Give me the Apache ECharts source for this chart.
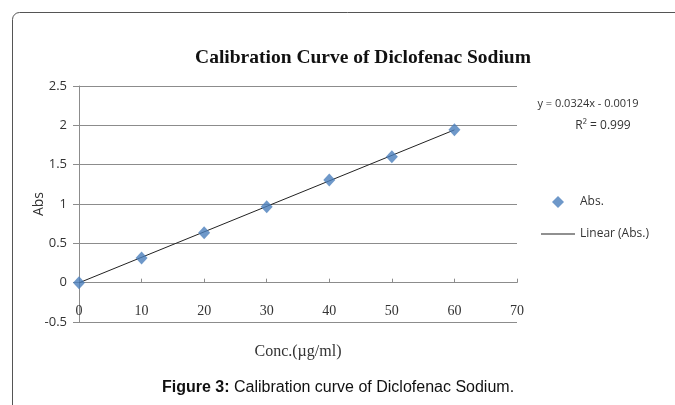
<!DOCTYPE html>
<html>
<head>
<meta charset="utf-8">
<script src="https://cdn.jsdelivr.net/npm/echarts@6/dist/echarts.min.js"></script>
<style>
  html, body { margin: 0; padding: 0; background: #fff; }
  #chart { width: 675px; height: 405px; }
</style>
</head>
<body>
<div id="chart"></div>
<script>
// concentration (µg/ml) and absorbance
var conc = [0, 10, 20, 30, 40, 50, 60]
var abs = [0, 0.315, 0.635, 0.965, 1.305, 1.6, 1.945]
// linear trendline endpoints, y = 0.0324x - 0.0019
var trendX = [0, 60]
var trendY = [-0.0019, 1.9421]

var chart = echarts.init(document.getElementById('chart'))
var option = {
  animation: false,
  backgroundColor: '#fff',
  title: {
    text: 'Calibration Curve of Diclofenac Sodium',
    left: 358,
    textAlign: 'center',
    top: 43,
    textStyle: {
      fontFamily: 'Liberation Serif',
      fontWeight: 'bold',
      fontSize: 19.5,
      color: '#111'
    }
  },
  grid: {
    left: 79,
    right: 158,
    top: 86,
    bottom: 83,
    outerBoundsMode: 'none',
    containLabel: false
  },
  legend: {
    orient: 'vertical',
    left: 536,
    top: 191,
    itemWidth: 34,
    itemHeight: 12,
    itemGap: 20,
    symbolKeepAspect: true,
    textStyle: {
      fontFamily: 'Open Sans',
      fontSize: 12,
      color: '#333'
    },
    data: [
      { name: 'Abs.', icon: 'path://M0,-1L1,0L0,1L-1,0Z' },
      { name: 'Linear (Abs.)', icon: 'path://M0,0L34,0L34,1L0,1Z' }
    ]
  },
  xAxis: {
    type: 'value',
    min: 0,
    max: 70,
    interval: 10,
    name: 'Conc.(µg/ml)',
    nameLocation: 'middle',
    nameGap: 22,
    nameMoveOverlap: false,
    nameTextStyle: {
      fontFamily: 'Liberation Serif',
      fontSize: 16,
      color: '#333'
    },
    axisLine: { onZero: true, lineStyle: { color: '#8c8c8c' } },
    axisTick: { show: true, inside: true, length: 4, lineStyle: { color: '#8c8c8c' } },
    axisLabel: {
      fontFamily: 'Liberation Serif',
      fontSize: 14,
      color: '#333',
      margin: -18
    },
    splitLine: { show: false }
  },
  yAxis: {
    type: 'value',
    min: -0.5,
    max: 2.5,
    interval: 0.5,
    name: 'Abs',
    nameLocation: 'middle',
    nameGap: 33,
    nameMoveOverlap: false,
    nameTextStyle: {
      fontFamily: 'Open Sans',
      fontSize: 14,
      color: '#333'
    },
    axisLine: { show: true, lineStyle: { color: '#8c8c8c' } },
    axisTick: { show: true, length: 6, lineStyle: { color: '#8c8c8c' } },
    axisLabel: {
      fontFamily: 'Open Sans',
      fontSize: 13,
      color: '#333',
      margin: 12
    },
    splitLine: { lineStyle: { color: '#8c8c8c' } }
  },
  series: [
    {
      name: 'Linear (Abs.)',
      type: 'line',
      data: trendX.map(function (x, i) { return [x, trendY[i]] }),
      symbol: 'none',
      lineStyle: { color: '#222', width: 1 },
      itemStyle: { color: '#222' },
      z: 3
    },
    {
      name: 'Abs.',
      type: 'scatter',
      data: conc.map(function (x, i) { return [x, abs[i]] }),
      symbol: 'diamond',
      symbolSize: [12, 13],
      itemStyle: { color: '#4a7ebb' },
      z: 4
    }
  ],
  graphic: [
    {
      type: 'rect',
      shape: { x: 12.5, y: 12.5, width: 720, height: 430, r: 7 },
      style: { fill: 'none', stroke: '#555', lineWidth: 1 },
      silent: true
    },
    {
      type: 'text',
      x: 588,
      y: 104,
      style: {
        text: 'y = 0.0324x - 0.0019',
        font: '11px "Open Sans"',
        fill: '#333',
        align: 'center',
        verticalAlign: 'middle'
      }
    },
    {
      type: 'text',
      x: 603,
      y: 126,
      style: {
        text: 'R² = 0.999',
        font: '12px "Open Sans"',
        fill: '#333',
        align: 'center',
        verticalAlign: 'middle'
      }
    },
    {
      type: 'text',
      x: 338,
      y: 388,
      style: {
        text: '{b|Figure 3:} Calibration curve of Diclofenac Sodium.',
        align: 'center',
        verticalAlign: 'middle',
        rich: {
          b: { fontFamily: 'Liberation Sans', fontWeight: 'bold', fontSize: 16, fill: '#111' }
        },
        font: '16px "Liberation Sans"',
        fill: '#111'
      }
    }
  ]
}
chart.setOption(option)
window.addEventListener('resize', function () {
  chart.resize()
})
</script>
</body>
</html>
